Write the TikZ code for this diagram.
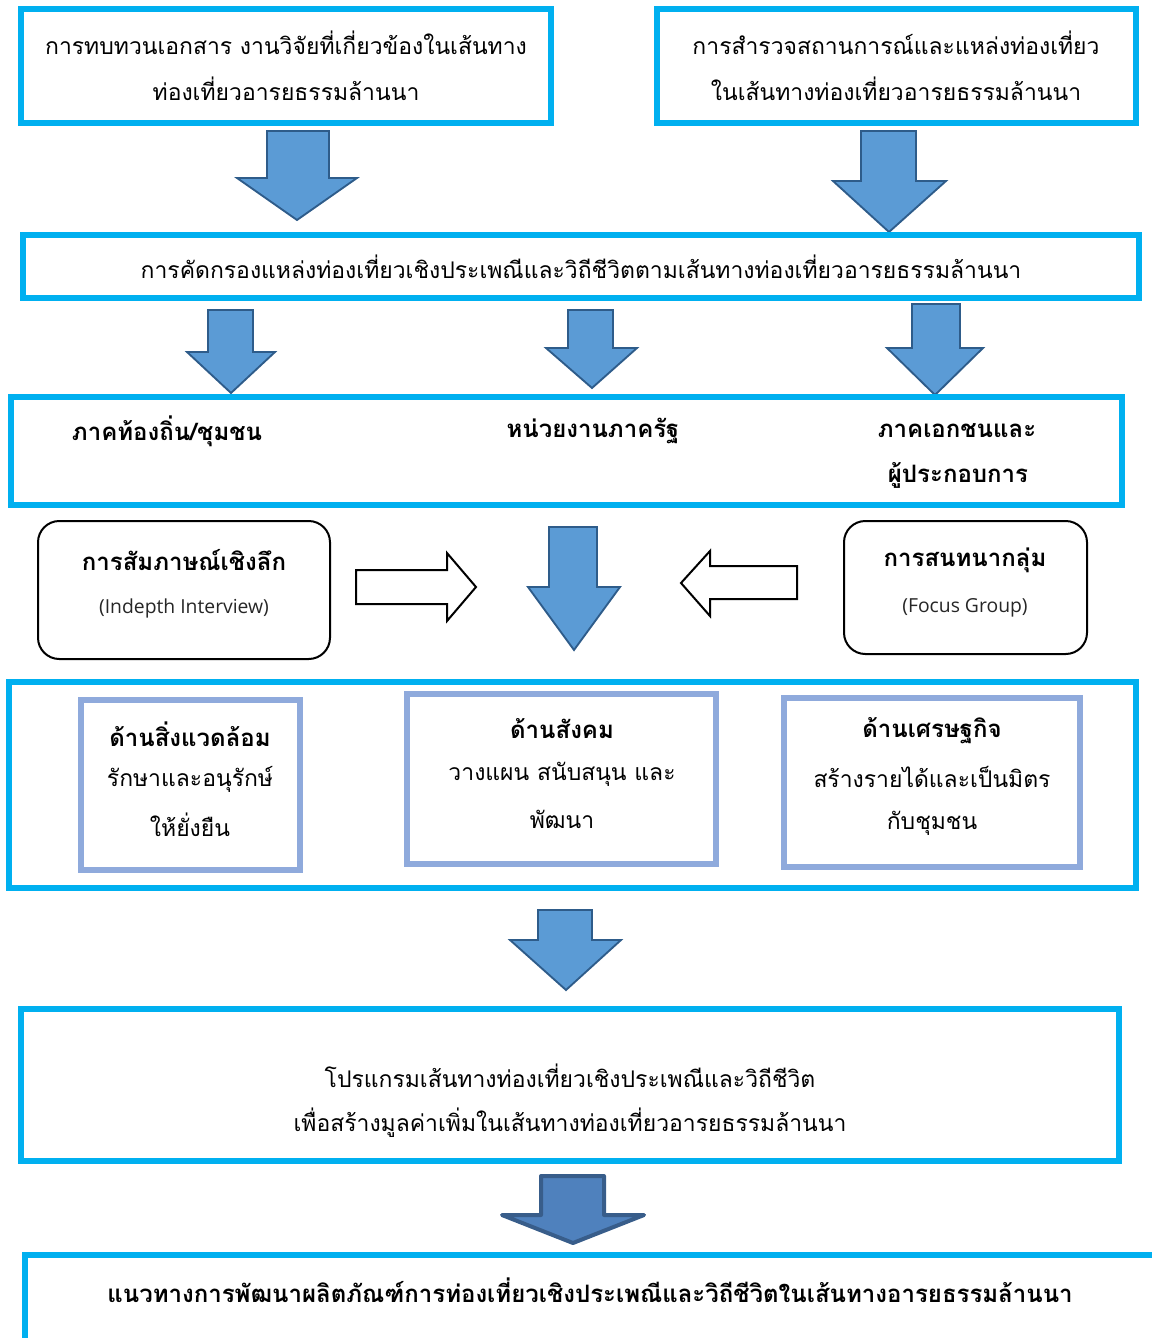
\documentclass[tikz,border=0pt]{standalone}
\usepackage{fontspec}
\newfontfamily\thaifont[Script=Thai]{Loma}
\newfontfamily\latfont{Open Sans}
\definecolor{cyanb}{HTML}{00B0F0}
\definecolor{innerb}{HTML}{8FAADC}
\definecolor{arrfill}{HTML}{5B9BD5}
\definecolor{arrdraw}{HTML}{2E5C8A}
\definecolor{arrfillB}{HTML}{4F81BD}
\definecolor{arrdrawB}{HTML}{385D8A}
\newcommand{\blockdown}[9][]{\draw[#1] (#2,#4) -- (#3,#4) -- (#3,#5) -- (#7,#5) -- (#8,#9) -- (#6,#5) -- (#2,#5) -- cycle;}
\newcommand{\tsz}{\fontsize{17.2pt}{34pt}\selectfont}
\newcommand{\bsz}{\fontsize{18pt}{34pt}\selectfont}
\begin{document}
\begin{tikzpicture}[x=0.75pt,y=-0.75pt,
  cbox/.style={draw=cyanb,line width=3.8pt,minimum width=#1*0.75pt,inner sep=0pt},
  ibox/.style={draw=innerb,line width=3.8pt,inner sep=0pt},
  rbox/.style={draw=black,line width=1.5pt,rounded corners=16pt,inner sep=0pt},
  txt/.style={font=\thaifont\tsz,align=center,inner sep=0pt},
  btxt/.style={font=\thaifont\bfseries\bsz,align=center,inner sep=0pt},
  ltxt/.style={font=\latfont\fontsize{14.5pt}{16pt}\selectfont,text=black!85,inner sep=0pt},
  barrow/.style={fill=arrfill,draw=arrdraw,line width=1.4pt,line join=miter},
  barrowB/.style={fill=arrfillB,draw=arrdrawB,line width=3pt,line join=round},
  harrow/.style={draw=black,line width=1.5pt,fill=white,line join=miter}]
\useasboundingbox (0,0) rectangle (1152,1338);
\clip (0,0) rectangle (1152,1338);
% row 1
\node[cbox=530,minimum height=114*0.75pt] (b1) at (286,66) {};
\node[cbox=479,minimum height=114*0.75pt] (b2) at (896.5,66) {};
\node[txt] (t1a) at (286,43) {การทบทวนเอกสาร งานวิจัยที่เกี่ยวข้องในเส้นทาง};
\node[txt] (t1b) at (286,89) {ท่องเที่ยวอารยธรรมล้านนา};
\node[txt] (t2a) at (896,43) {การสำรวจสถานการณ์และแหล่งท่องเที่ยว};
\node[txt] (t2b) at (896,89) {ในเส้นทางท่องเที่ยวอารยธรรมล้านนา};
\blockdown[barrow]{267}{329}{131}{178}{237}{357}{297}{220}
\blockdown[barrow]{861}{916}{131}{181}{833}{946}{889}{232}
% row 2
\node[cbox=1116,minimum height=63*0.75pt] (b3) at (581,266.5) {};
\node[txt] (t3) at (581,267) {การคัดกรองแหล่งท่องเที่ยวเชิงประเพณีและวิถีชีวิตตามเส้นทางท่องเที่ยวอารยธรรมล้านนา};
\blockdown[barrow]{208}{253}{310}{352}{187}{275}{231}{393}
\blockdown[barrow]{568}{613}{310}{348}{546}{637}{592}{388}
\blockdown[barrow]{912}{960}{304}{348}{887}{983}{935}{395}
% row 3
\node[cbox=1111,minimum height=108*0.75pt] (b4) at (566.5,451) {};
\node[btxt] (t4a) at (167,431) {ภาคท้องถิ่น/ชุมชน};
\node[btxt] (t4b) at (593,431) {หน่วยงานภาครัฐ};
\node[btxt] (t4c) at (957,431) {ภาคเอกชนและ};
\node[btxt] (t4d) at (958,475) {ผู้ประกอบการ};
% row 4
\node[rbox,minimum width=292*0.75pt,minimum height=138*0.75pt] (r1) at (184,590) {};
\node[btxt] (r1a) at (184,560) {การสัมภาษณ์เชิงลึก};
\node[ltxt] (r1b) at (184,608) {(Indepth Interview)};
\node[rbox,minimum width=243*0.75pt,minimum height=133*0.75pt] (r2) at (965.5,587.5) {};
\node[btxt] (r2a) at (965,560) {การสนทนากลุ่ม};
\node[ltxt] (r2b) at (965,608) {(Focus Group)};
\draw[harrow] (356,570) -- (447,570) -- (447,553) -- (476,587) -- (447,621) -- (447,604) -- (356,604) -- cycle;
\draw[harrow] (797,566) -- (710,566) -- (710,551) -- (681,583) -- (710,616) -- (710,599) -- (797,599) -- cycle;
\blockdown[barrow]{549}{597}{527}{587}{528}{620}{574}{650}
% row 5
\node[cbox=1127,minimum height=206*0.75pt] (b5) at (572.5,785) {};
\node[ibox,minimum width=219*0.75pt,minimum height=170*0.75pt] (i1) at (190.5,785) {};
\node[ibox,minimum width=309*0.75pt,minimum height=170*0.75pt] (i2) at (561.5,779) {};
\node[ibox,minimum width=296*0.75pt,minimum height=169*0.75pt] (i3) at (932,782.5) {};
\node[btxt] (i1a) at (190,734) {ด้านสิ่งแวดล้อม};
\node[txt] (i1b) at (190,779) {รักษาและอนุรักษ์};
\node[txt] (i1c) at (190,825) {ให้ยั่งยืน};
\node[btxt] (i2a) at (562,729) {ด้านสังคม};
\node[txt] (i2b) at (562,774) {วางแผน สนับสนุน และ};
\node[txt] (i2c) at (562,819) {พัฒนา};
\node[btxt] (i3a) at (932,731) {ด้านเศรษฐกิจ};
\node[txt] (i3b) at (932,777) {สร้างรายได้และเป็นมิตร};
\node[txt] (i3c) at (932,823) {กับชุมชน};
\blockdown[barrow]{538}{592}{910}{940}{510}{621}{566}{990}
% row 6
\node[cbox=1098,minimum height=152*0.75pt] (b6) at (570,1085) {};
\node[txt] (t6a) at (570,1076) {โปรแกรมเส้นทางท่องเที่ยวเชิงประเพณีและวิถีชีวิต};
\node[txt] (t6b) at (570,1123) {เพื่อสร้างมูลค่าเพิ่มในเส้นทางท่องเที่ยวอารยธรรมล้านนา};
\blockdown[barrowB]{541}{604}{1176}{1215}{502}{644}{573}{1243}
% row 7
\node[cbox=1135,minimum height=95*0.75pt] (b7) at (592.5,1302.5) {};
\node[btxt] (t7) at (590,1290) {แนวทางการพัฒนาผลิตภัณฑ์การท่องเที่ยวเชิงประเพณีและวิถีชีวิตในเส้นทางอารยธรรมล้านนา};
\end{tikzpicture}
\end{document}
